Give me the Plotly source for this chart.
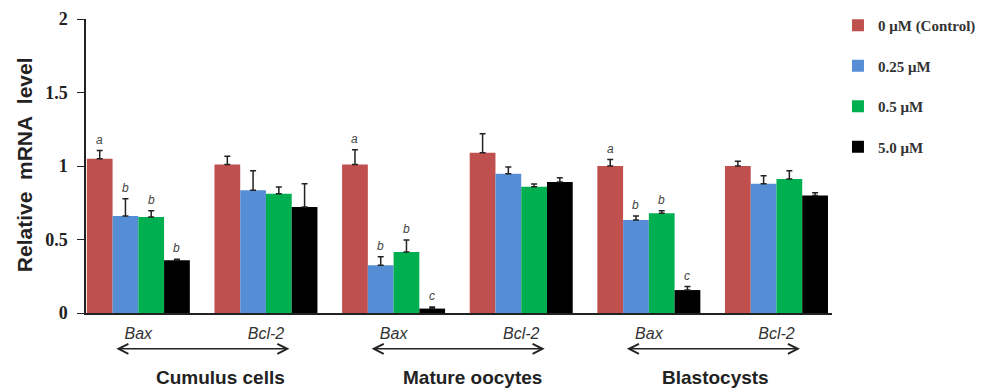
import plotly.graph_objects as go

# ---- data ----
tissues = ["Cumulus cells", "Mature oocytes", "Blastocysts"]
genes = ["Bax", "Bcl-2", "Bax", "Bcl-2", "Bax", "Bcl-2"]
series_names = ["0 μM (Control)", "0.25 μM", "0.5 μM", "5.0 μM"]
colors = ["#C0504D", "#558ED5", "#00B050", "#000000"]

ctrl = [1.05, 1.01, 1.01, 1.09, 1.00, 1.00]
d025 = [0.66, 0.835, 0.325, 0.948, 0.633, 0.88]
d05 = [0.653, 0.812, 0.415, 0.859, 0.678, 0.912]
d50 = [0.358, 0.721, 0.03, 0.891, 0.156, 0.80]

err_ctrl = [0.055, 0.056, 0.10, 0.13, 0.044, 0.032]
err_025 = [0.118, 0.133, 0.057, 0.045, 0.027, 0.054]
err_05 = [0.043, 0.045, 0.082, 0.019, 0.018, 0.056]
err_50 = [0.007, 0.159, 0.01, 0.029, 0.024, 0.018]

let_ctrl = ["a", "", "a", "", "a", ""]
let_025 = ["b", "", "b", "", "b", ""]
let_05 = ["b", "", "b", "", "b", ""]
let_50 = ["b", "", "c", "", "c", ""]

values = [ctrl, d025, d05, d50]
errors = [err_ctrl, err_025, err_05, err_50]
letters = [let_ctrl, let_025, let_05, let_50]

x = list(range(len(genes)))

fig = go.Figure()
for i, name in enumerate(series_names):
    fig.add_trace(go.Bar(
        x=x, y=values[i], name=name,
        marker=dict(color=colors[i], line=dict(width=0)),
        error_y=dict(type="data", array=errors[i], symmetric=False,
                     arrayminus=[0] * len(genes), color="#222222",
                     thickness=1.5, width=3),
        legendgroup=name,
        offsetgroup=str(i),
    ))

# significance letters
ann = []
bar_w = 0.807 / 4
for i in range(4):
    for j in x:
        if letters[i][j]:
            ann.append(dict(
                x=j - 0.807 / 2 + bar_w * (i + 0.5), y=values[i][j] + errors[i][j],
                xref="x", yref="y", text="<i>" + letters[i][j] + "</i>",
                showarrow=False, yanchor="bottom", yshift=2,
                font=dict(family="Arial, Liberation Sans", size=12, color="#444444")))

# tissue arrows and labels
label_shift = [18, 15, 3]
for k, t in enumerate(tissues):
    c = 2 * k + 0.5
    ann.append(dict(x=c + 0.684, y=-0.122, xref="x", yref="paper",
                    ax=c - 0.684, ay=0, axref="x", ayref="pixel",
                    text="", showarrow=True, arrowside="end+start",
                    arrowhead=5, startarrowhead=5, arrowsize=1.3,
                    startarrowsize=1.3, arrowwidth=1.5, arrowcolor="#222222",
                    standoff=0, startstandoff=0))
    ann.append(dict(x=c, y=-0.218, xref="x", yref="paper", text="<b>" + t + "</b>",
                    showarrow=False, xshift=label_shift[k], yanchor="middle",
                    font=dict(family="Arial, Liberation Sans", size=19, color="#222222")))

# y-axis title
ann.append(dict(x=-0.083, y=0.503, xref="paper", yref="paper",
                text="<b>Relative\u00a0\u00a0mRNA\u00a0\u00a0level</b>", textangle=-90,
                showarrow=False, xanchor="center", yanchor="middle",
                font=dict(family="Arial, Liberation Sans", size=21, color="#222222")))

fig.update_layout(
    width=997, height=384,
    margin=dict(l=78, r=173, t=11, b=79, autoexpand=False),
    paper_bgcolor="white", plot_bgcolor="white",
    barmode="group", bargap=0.193, bargroupgap=0,
    showlegend=True,
    legend=dict(x=1.008, y=1.034, xanchor="left", yanchor="top",
                tracegroupgap=18, traceorder="grouped",
                font=dict(family="Liberation Serif, Times New Roman, serif", size=15,
                          color="#333333", weight="bold"),
                itemclick=False),
    annotations=ann,
    xaxis=dict(range=[-0.41, 5.435], tickmode="array", tickvals=x,
               ticktext=["<i>" + g + "</i>" for g in genes],
               showline=True, linecolor="#222222", linewidth=1.5,
               ticks="", showgrid=False, zeroline=False, ticklabelstandoff=5,
               tickfont=dict(family="Arial, Liberation Sans", size=16, color="#333333")),
    yaxis=dict(range=[0, 2], tickvals=[0, 0.5, 1, 1.5, 2],
               ticktext=["<b>0</b>", "<b>0.5</b>", "<b>1</b>", "<b>1.5</b>", "<b>2</b>"],
               showline=True, linecolor="#222222", linewidth=1.5,
               ticks="outside", ticklen=7, tickwidth=1.2, tickcolor="#222222",
               showgrid=False, zeroline=False, ticklabelstandoff=6,
               tickfont=dict(family="Liberation Serif, Times New Roman, serif", size=18,
                             color="#222222")),
)

fig.write_html("out.html")
